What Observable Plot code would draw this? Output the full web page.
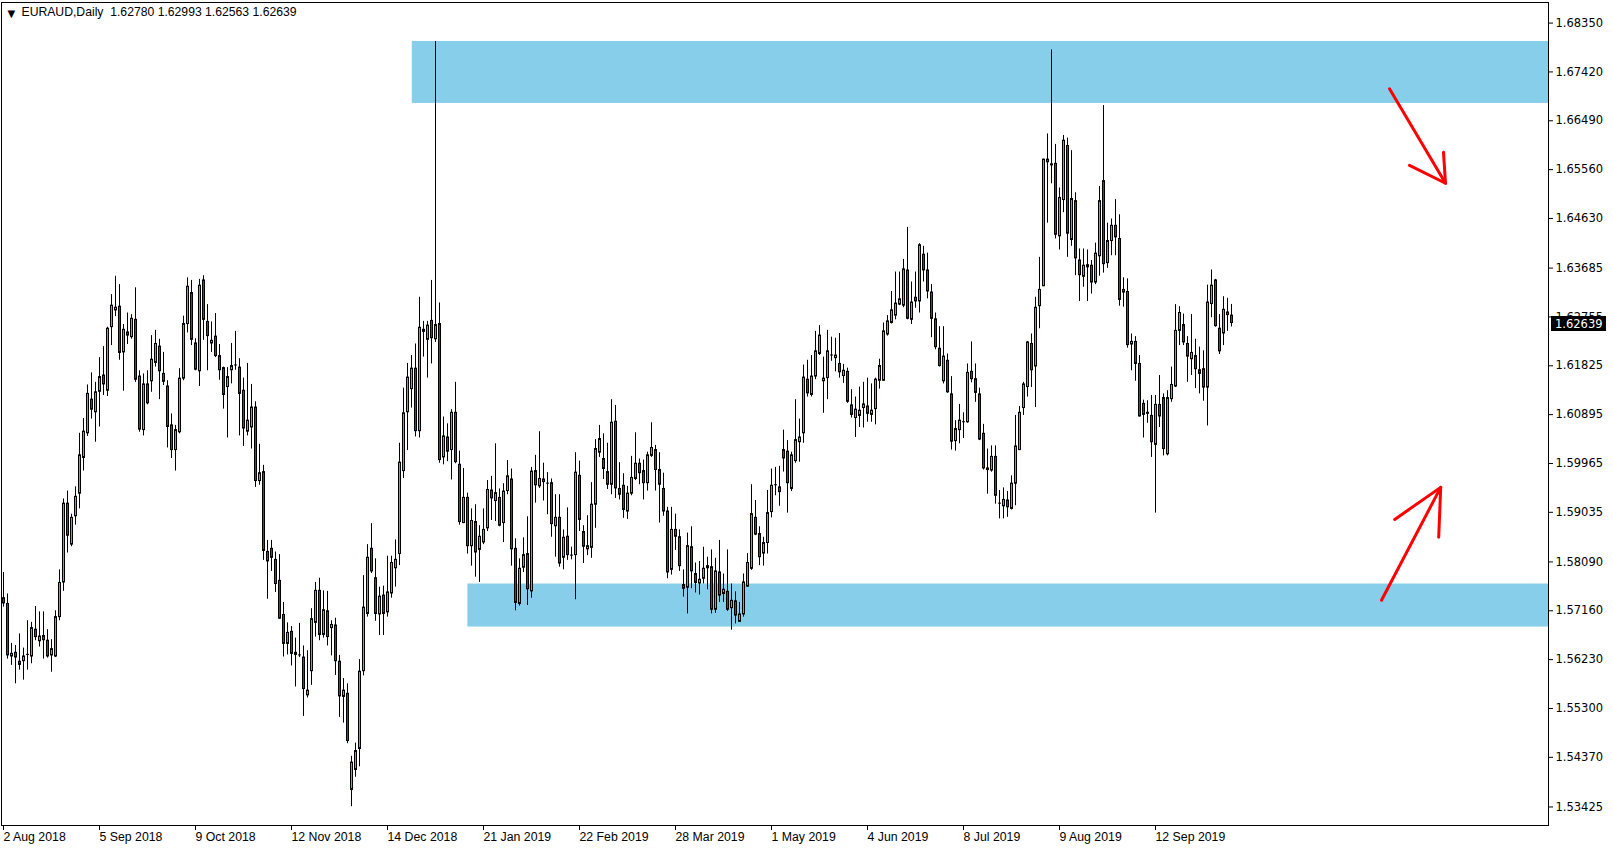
<!DOCTYPE html>
<html><head><meta charset="utf-8">
<script src="https://cdn.jsdelivr.net/npm/d3@7"></script>
<script src="https://cdn.jsdelivr.net/npm/@observablehq/plot@0.6"></script>
<style>html,body{margin:0;padding:0;background:#fff;overflow:hidden}</style>
</head><body><div id="chart"></div>
<script>
const symbol = "EURAUD,Daily";
const opens = [
1.5740,1.5729,1.5629,1.5636,1.5619,1.5620,1.5632,1.5629,1.5680,1.5658,
1.5668,1.5659,1.5631,1.5629,1.5704,1.5770,1.5920,1.5842,1.5896,1.5939,
1.6007,1.6054,1.6118,1.6094,1.6133,1.6164,1.6135,1.6256,1.6288,1.6295,
1.6208,1.6246,1.6237,1.6270,1.6162,1.6060,1.6147,1.6153,1.6188,1.6219,
1.6167,1.6143,1.6069,1.6022,1.6056,1.6158,1.6262,1.6321,1.6225,1.6172,
1.6345,1.6266,1.6225,1.6238,1.6201,1.6178,1.6142,1.6174,1.6185,1.6179,
1.6135,1.6057,1.6065,1.6103,1.5963,1.5980,1.5828,1.5834,1.5813,1.5773,
1.5708,1.5653,1.5676,1.5632,1.5633,1.5627,1.5555,1.5601,1.5693,1.5754,
1.5670,1.5715,1.5683,1.5688,1.5619,1.5552,1.5558,1.5375,1.5413,1.5453,
1.5601,1.5710,1.5834,1.5778,1.5709,1.5745,1.5713,1.5749,1.5797,1.5824,
1.5982,1.6094,1.6138,1.6177,1.6058,1.6251,1.6232,1.6268,1.6233,1.6262,
1.6008,1.6046,1.6022,1.6093,1.5994,1.5883,1.5931,1.5839,1.5885,1.5832,
1.5846,1.5873,1.5945,1.5925,1.5931,1.5883,1.5944,1.5966,1.5834,1.5729,
1.5798,1.5824,1.5753,1.5982,1.5953,1.5966,1.5960,1.5959,1.5877,1.5893,
1.5817,1.5857,1.5823,1.5822,1.5973,1.5866,1.5833,1.5836,1.5918,1.6017,
1.6005,1.5980,1.5956,1.6076,1.5948,1.5954,1.5905,1.5939,1.5967,1.5996,
1.5982,1.5959,1.6011,1.6022,1.5984,1.5948,1.5905,1.5794,1.5870,1.5856,
1.5765,1.5760,1.5837,1.5786,1.5768,1.5777,1.5797,1.5799,1.5718,1.5789,
1.5748,1.5752,1.5721,1.5734,1.5695,1.5709,1.5762,1.5796,1.5893,1.5862,
1.5825,1.5845,1.5904,1.5955,1.5951,1.6022,1.6019,1.5948,1.6001,1.6037,
1.6054,1.6156,1.6127,1.6162,1.6205,1.6153,1.6159,1.6202,1.6197,1.6186,
1.6163,1.6171,1.6107,1.6083,1.6087,1.6102,1.6105,1.6089,1.6100,1.6154,
1.6154,1.6242,1.6264,1.6278,1.6299,1.6297,1.6364,1.6270,1.6312,1.6305,
1.6394,1.6364,1.6322,1.6271,1.6215,1.6153,1.6192,1.6128,1.6039,1.6060,
1.6077,1.6075,1.6171,1.6157,1.6128,1.6053,1.5987,1.5983,1.6009,1.5922,
1.5915,1.5926,1.5910,1.5958,1.6022,1.6102,1.6142,1.6224,1.6181,1.6296,
1.6334,1.6575,1.6566,1.6567,1.6429,1.6498,1.6601,1.6422,1.6496,1.6383,
1.6352,1.6370,1.6373,1.6341,1.6391,1.6534,1.6378,1.6420,1.6449,1.6424,
1.6327,1.6323,1.6223,1.6228,1.6186,1.6110,1.6093,1.6087,1.6032,1.6108,
1.6121,1.6014,1.6119,1.6143,1.6249,1.6260,1.6224,1.6195,1.6201,1.6174,
1.6176,1.6141,1.6300,1.6345,1.6253,1.6244,1.6284,1.62780];
const highs = [
1.5789,1.5748,1.5654,1.5650,1.5672,1.5645,1.5697,1.5694,1.5724,1.5714,
1.5714,1.5680,1.5661,1.5716,1.5794,1.5929,1.5944,1.5900,1.5952,1.6054,
1.6082,1.6146,1.6169,1.6151,1.6198,1.6219,1.6256,1.6318,1.6353,1.6337,
1.6261,1.6283,1.6280,1.6331,1.6173,1.6167,1.6173,1.6240,1.6250,1.6233,
1.6208,1.6154,1.6091,1.6069,1.6177,1.6277,1.6350,1.6345,1.6234,1.6347,
1.6354,1.6299,1.6266,1.6282,1.6223,1.6180,1.6179,1.6225,1.6248,1.6196,
1.6159,1.6187,1.6147,1.6114,1.6033,1.5993,1.5850,1.5850,1.5828,1.5823,
1.5732,1.5693,1.5686,1.5664,1.5692,1.5649,1.5640,1.5720,1.5770,1.5778,
1.5754,1.5753,1.5697,1.5702,1.5631,1.5587,1.5577,1.5439,1.5464,1.5623,
1.5783,1.5842,1.5882,1.5815,1.5761,1.5763,1.5820,1.5820,1.5851,1.6035,
1.6140,1.6187,1.6202,1.6224,1.6313,1.6267,1.6267,1.6345,1.6800,1.6302,
1.6085,1.6072,1.6099,1.6151,1.6020,1.5987,1.5940,1.5910,1.5918,1.5878,
1.5910,1.5964,1.5972,1.6034,1.5948,1.5958,1.6002,1.5986,1.5853,1.5815,
1.5855,1.5895,1.5989,1.6012,1.6057,1.5997,1.5979,1.5967,1.5937,1.5937,
1.5870,1.5912,1.5837,1.6017,1.6001,1.5878,1.5897,1.5960,1.6042,1.6069,
1.6053,1.6035,1.6118,1.6107,1.5998,1.5977,1.5953,1.6010,1.6055,1.6005,
1.6003,1.6018,1.6074,1.6031,1.6017,1.5978,1.5913,1.5913,1.5900,1.5870,
1.5794,1.5864,1.5876,1.5807,1.5810,1.5837,1.5818,1.5832,1.5816,1.5850,
1.5786,1.5832,1.5767,1.5752,1.5732,1.5786,1.5825,1.5956,1.5926,1.5876,
1.5856,1.5945,1.5986,1.5989,1.5991,1.6060,1.6040,1.6018,1.6118,1.6081,
1.6184,1.6193,1.6202,1.6248,1.6259,1.6199,1.6250,1.6237,1.6235,1.6244,
1.6185,1.6178,1.6137,1.6123,1.6142,1.6151,1.6159,1.6148,1.6159,1.6195,
1.6264,1.6278,1.6324,1.6361,1.6361,1.6385,1.6446,1.6342,1.6361,1.6415,
1.6410,1.6397,1.6337,1.6283,1.6257,1.6257,1.6205,1.6162,1.6078,1.6109,
1.6093,1.6186,1.6228,1.6186,1.6140,1.6071,1.6024,1.6030,1.6030,1.5945,
1.5950,1.5943,1.5973,1.6088,1.6105,1.6151,1.6229,1.6243,1.6313,1.6389,
1.6576,1.6624,1.6784,1.6604,1.6521,1.6621,1.6616,1.6592,1.6512,1.6405,
1.6405,1.6403,1.6383,1.6416,1.6524,1.6678,1.6454,1.6462,1.6499,1.6470,
1.6350,1.6348,1.6243,1.6238,1.6202,1.6117,1.6116,1.6126,1.6126,1.6164,
1.6129,1.6135,1.6180,1.6299,1.6295,1.6281,1.6238,1.6280,1.6233,1.6218,
1.6211,1.6336,1.6365,1.6347,1.6280,1.6314,1.6311,1.62993];
const lows = [
1.5723,1.5624,1.5612,1.5577,1.5603,1.5584,1.5603,1.5615,1.5659,1.5647,
1.5624,1.5626,1.5599,1.5627,1.5697,1.5753,1.5826,1.5838,1.5879,1.5910,
1.5982,1.6048,1.6081,1.6037,1.6066,1.6126,1.6124,1.6221,1.6276,1.6193,
1.6134,1.6223,1.6233,1.6151,1.6056,1.6049,1.6108,1.6132,1.6180,1.6118,
1.6145,1.6026,1.6006,1.5982,1.6053,1.6154,1.6245,1.6221,1.6173,1.6143,
1.6231,1.6173,1.6208,1.6198,1.6155,1.6100,1.6045,1.6148,1.6174,1.6049,
1.6029,1.6049,1.6024,1.5951,1.5955,1.5812,1.5738,1.5791,1.5751,1.5700,
1.5628,1.5632,1.5611,1.5571,1.5627,1.5515,1.5550,1.5574,1.5666,1.5659,
1.5664,1.5649,1.5630,1.5593,1.5513,1.5502,1.5463,1.5343,1.5399,1.5419,
1.5592,1.5704,1.5787,1.5696,1.5669,1.5669,1.5704,1.5740,1.5761,1.5802,
1.5968,1.6021,1.6102,1.6047,1.6045,1.6199,1.6159,1.6186,1.6227,1.5997,
1.5994,1.6000,1.5965,1.5996,1.5879,1.5882,1.5824,1.5801,1.5780,1.5770,
1.5842,1.5867,1.5888,1.5886,1.5876,1.5846,1.5937,1.5801,1.5716,1.5725,
1.5789,1.5726,1.5740,1.5921,1.5949,1.5925,1.5899,1.5856,1.5818,1.5799,
1.5794,1.5812,1.5813,1.5737,1.5867,1.5806,1.5821,1.5816,1.5873,1.6008,
1.5966,1.5947,1.5937,1.5930,1.5927,1.5892,1.5890,1.5935,1.5964,1.5956,
1.5927,1.5944,1.6008,1.5944,1.5883,1.5896,1.5777,1.5784,1.5831,1.5791,
1.5742,1.5710,1.5758,1.5750,1.5746,1.5767,1.5756,1.5710,1.5711,1.5732,
1.5732,1.5715,1.5679,1.5691,1.5694,1.5704,1.5761,1.5793,1.5859,1.5802,
1.5801,1.5824,1.5893,1.5935,1.5915,1.5980,1.5902,1.5943,1.5997,1.5999,
1.6035,1.6123,1.6123,1.6156,1.6202,1.6092,1.6118,1.6191,1.6171,1.6159,
1.6149,1.6111,1.6083,1.6046,1.6065,1.6064,1.6075,1.6075,1.6070,1.6138,
1.6153,1.6239,1.6262,1.6270,1.6297,1.6293,1.6270,1.6261,1.6292,1.6283,
1.6342,1.6310,1.6236,1.6213,1.6180,1.6148,1.6130,1.6022,1.6020,1.6034,
1.6044,1.6073,1.6150,1.6113,1.6040,1.5984,1.5938,1.5980,1.5919,1.5891,
1.5891,1.5894,1.5908,1.5916,1.6021,1.6088,1.6123,1.6141,1.6103,1.6253,
1.6333,1.6454,1.6529,1.6424,1.6403,1.6474,1.6389,1.6410,1.6354,1.6305,
1.6332,1.6305,1.6319,1.6337,1.6353,1.6359,1.6368,1.6392,1.6392,1.6296,
1.6294,1.6216,1.6173,1.6153,1.6085,1.6045,1.6073,1.6008,1.5902,1.6065,
1.6011,1.6011,1.6113,1.6141,1.6221,1.6221,1.6151,1.6164,1.6139,1.6129,
1.6115,1.6068,1.6274,1.6256,1.6204,1.6221,1.6248,1.62563];
const closes = [
1.5730,1.5631,1.5634,1.5627,1.5613,1.5629,1.5633,1.5683,1.5666,1.5667,
1.5660,1.5629,1.5643,1.5704,1.5769,1.5920,1.5859,1.5893,1.5933,1.6012,
1.6057,1.6129,1.6099,1.6132,1.6161,1.6147,1.6253,1.6297,1.6293,1.6207,
1.6251,1.6240,1.6272,1.6156,1.6061,1.6147,1.6111,1.6194,1.6224,1.6172,
1.6152,1.6066,1.6022,1.6060,1.6158,1.6262,1.6333,1.6232,1.6175,1.6335,
1.6270,1.6239,1.6230,1.6201,1.6174,1.6127,1.6161,1.6182,1.6184,1.6129,
1.6063,1.6078,1.6103,1.5963,1.5978,1.5830,1.5810,1.5817,1.5767,1.5701,
1.5653,1.5674,1.5634,1.5636,1.5632,1.5567,1.5564,1.5700,1.5754,1.5670,
1.5717,1.5666,1.5689,1.5620,1.5553,1.5564,1.5468,1.5427,1.5449,1.5600,
1.5722,1.5817,1.5791,1.5710,1.5743,1.5710,1.5751,1.5807,1.5813,1.5998,
1.6092,1.6160,1.6177,1.6058,1.6255,1.6247,1.6259,1.6235,1.6260,1.6003,
1.6048,1.6019,1.6093,1.5999,1.5885,1.5931,1.5839,1.5887,1.5827,1.5857,
1.5870,1.5946,1.5930,1.5940,1.5878,1.5943,1.5972,1.5833,1.5731,1.5796,
1.5822,1.5757,1.5981,1.5955,1.5967,1.5961,1.5959,1.5881,1.5893,1.5806,
1.5855,1.5822,1.5822,1.5979,1.5889,1.5838,1.5839,1.5918,1.6024,1.6043,
1.5986,1.5956,1.6074,1.5949,1.5937,1.5908,1.5939,1.5969,1.5996,1.5978,
1.5959,1.6012,1.6026,1.5984,1.5956,1.5905,1.5789,1.5870,1.5857,1.5801,
1.5758,1.5839,1.5791,1.5769,1.5775,1.5796,1.5801,1.5718,1.5791,1.5745,
1.5756,1.5718,1.5735,1.5707,1.5709,1.5770,1.5807,1.5900,1.5861,1.5818,
1.5845,1.5902,1.5954,1.5956,1.5942,1.6006,1.5959,1.6012,1.6041,1.6046,
1.6160,1.6130,1.6162,1.6210,1.6240,1.6158,1.6210,1.6203,1.6202,1.6170,
1.6173,1.6114,1.6089,1.6099,1.6097,1.6109,1.6091,1.6097,1.6156,1.6182,
1.6248,1.6267,1.6288,1.6301,1.6309,1.6366,1.6272,1.6303,1.6305,1.6412,
1.6364,1.6324,1.6272,1.6218,1.6182,1.6200,1.6132,1.6038,1.6062,1.6078,
1.6076,1.6169,1.6157,1.6131,1.6042,1.5987,1.5984,1.6009,1.5935,1.5921,
1.5927,1.5913,1.5958,1.6029,1.6093,1.6147,1.6227,1.6174,1.6293,1.6327,
1.6575,1.6570,1.6564,1.6432,1.6502,1.6611,1.6434,1.6500,1.6387,1.6355,
1.6373,1.6374,1.6341,1.6396,1.6496,1.6376,1.6420,1.6449,1.6427,1.6308,
1.6322,1.6222,1.6228,1.6186,1.6086,1.6089,1.6091,1.6037,1.6108,1.6086,
1.6024,1.6121,1.6146,1.6249,1.6283,1.6227,1.6200,1.6207,1.6176,1.6167,
1.6141,1.6303,1.6335,1.6258,1.6210,1.6289,1.6279,1.62639];

const dateTickIndex = [0,24,48,72,96,120,144,168,192,216,240,264,288];
const dateTickLabels = ["2 Aug 2018","5 Sep 2018","9 Oct 2018","12 Nov 2018","14 Dec 2018","21 Jan 2019","22 Feb 2019","28 Mar 2019","1 May 2019","4 Jun 2019","8 Jul 2019","9 Aug 2019","12 Sep 2019"];
const priceTicks = [1.68350,1.67420,1.66490,1.65560,1.64630,1.63685,1.62755,1.61825,1.60895,1.59965,1.59035,1.58090,1.57160,1.56230,1.55300,1.54370,1.53425];

// zones: start bar index, price top, price bottom
const zoneStart = [102.2, 116.1];
const zoneTop = [1.6800, 1.5767];
const zoneBottom = [1.6682, 1.5685];

// hand-drawn arrows (bar index, price)
const arrowDownShaft = [[346.5,1.6710],[360.5,1.6530]];
const arrowDownHead = [[351.5,1.6564],[360.5,1.6530],[360.0,1.6589]];
const arrowUpShaft = [[344.5,1.5736],[359.3,1.5951]];
const arrowUpHead = [[347.8,1.5890],[359.3,1.5951],[358.8,1.5856]];

const X_MIN = -0.5, X_MAX = 386.25;
const Y_MIN = 1.53072, Y_MAX = 1.68742;

const candles = opens.map((o, i) => ({i, open: o, high: highs[i], low: lows[i], close: closes[i]}));
const DOJI = 0.00012;
const bulls = candles.filter(d => d.close - d.open >= DOJI);
const bears = candles.filter(d => d.open - d.close >= DOJI);
const dojis = candles.filter(d => Math.abs(d.close - d.open) < DOJI);
const zones = zoneStart.map((s, k) => ({start: s, end: X_MAX, top: zoneTop[k], bottom: zoneBottom[k]}));
const toPts = (a, g) => a.map(([x, y]) => ({x, y, g}));
const arrowPts = [
  ...toPts(arrowDownShaft, "a"), ...toPts(arrowDownHead, "b"),
  ...toPts(arrowUpShaft, "c"), ...toPts(arrowUpHead, "d")
];

const last = candles.length - 1;
const f5 = d3.format(".5f");
const titleText = `${symbol}\u00a0\u00a0${f5(opens[last])} ${f5(highs[last])} ${f5(lows[last])} ${f5(closes[last])}`;

const chart = Plot.plot({
  width: 1613, height: 850,
  marginLeft: 1, marginRight: 65, marginTop: 2, marginBottom: 25,
  x: {type: "linear", domain: [X_MIN, X_MAX]},
  y: {type: "linear", domain: [Y_MIN, Y_MAX]},
  style: {background: "white", overflow: "visible"},
  marks: [
    Plot.rect(zones, {x1: "start", x2: "end", y1: "bottom", y2: "top", fill: "#87CEEB"}),
    Plot.ruleX(candles, {x: "i", y1: "low", y2: "high", stroke: "black", strokeWidth: 1}),
    Plot.rect(bulls, {x1: d => d.i - 0.125, x2: d => d.i + 0.375, y1: "open", y2: "close", fill: "#00ff00", stroke: "black", strokeWidth: 1}),
    Plot.rect(bears, {x1: d => d.i - 0.125, x2: d => d.i + 0.375, y1: "open", y2: "close", fill: "#ff0000", stroke: "black", strokeWidth: 1}),
    Plot.ruleY(dojis, {y: "close", x1: d => d.i - 0.25, x2: d => d.i + 0.5, stroke: "black"}),
    Plot.line(arrowPts, {x: "x", y: "y", z: "g", stroke: "#ff0000", strokeWidth: 3, strokeLinecap: "round", strokeLinejoin: "round"}),
    Plot.frame({stroke: "black"}),
    Plot.axisY(priceTicks, {anchor: "right", tickSize: 4, tickPadding: 3, tickFormat: f5, fontSize: 11.5, fontFamily: "DejaVu Sans", fill: "black"}),
    Plot.axisX(dateTickIndex, {anchor: "bottom", tickSize: 5, tickPadding: 2, textAnchor: "start", dx: 0, tickFormat: d => dateTickLabels[dateTickIndex.indexOf(d)], fontSize: 12.3, fontFamily: "Liberation Sans", fill: "black"}),
    Plot.text(["\u25BC"], {frameAnchor: "top-left", dx: 6, dy: 7, fontSize: 10, fill: "black", fontFamily: "DejaVu Sans", textAnchor: "start"}),
    Plot.text([titleText], {frameAnchor: "top-left", dx: 20, dy: 5, fontSize: 12.2, fill: "black", fontFamily: "Liberation Sans", textAnchor: "start"})
  ]
});

// current price marker on the right axis, positioned with the chart's y scale
const yPx = chart.scale("y").apply(closes[last]);
const svg = d3.select(chart);
svg.append("rect").attr("x", 1551).attr("y", Math.round(yPx) - 7).attr("width", 55).attr("height", 15).attr("fill", "black");
svg.append("text").attr("x", 1555).attr("y", Math.round(yPx) + 0.5).attr("dy", "0.35em")
  .attr("text-anchor", "start")
  .attr("fill", "white").attr("font-family", "DejaVu Sans").attr("font-size", 11.5).text(f5(closes[last]));

document.getElementById("chart").appendChild(chart);
</script>
</body></html>
